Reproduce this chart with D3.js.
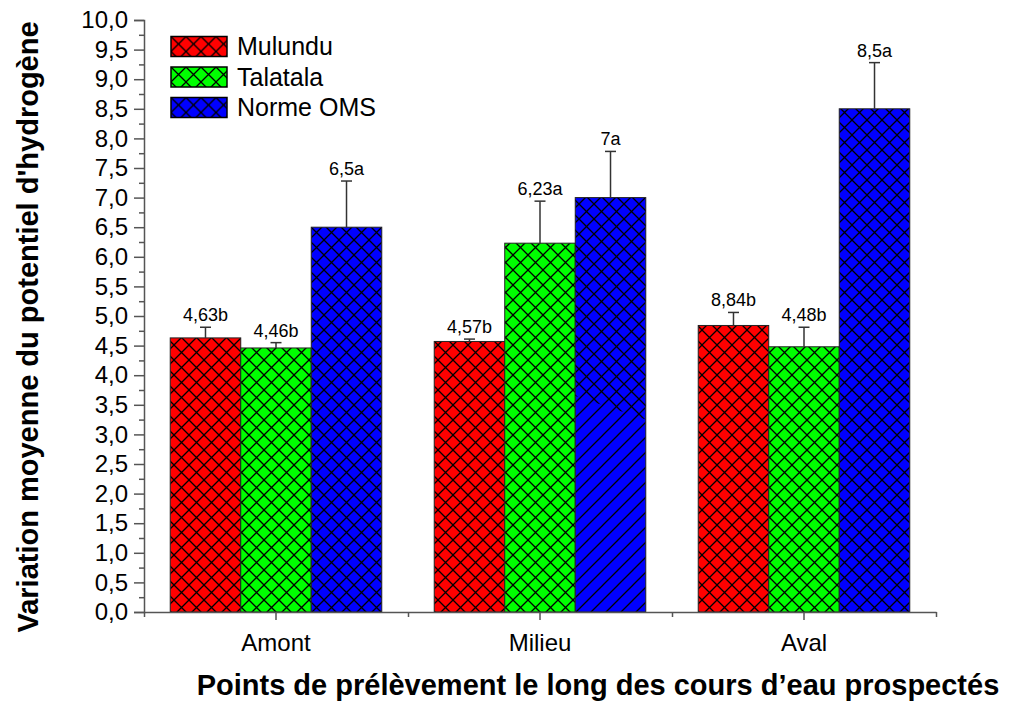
<!DOCTYPE html>
<html lang="fr">
<head>
<meta charset="utf-8">
<title>pH moyen</title>
<script src="https://cdn.jsdelivr.net/npm/d3@7"></script>
<style>
body { margin: 0; background: #fff; }
text { font-family: "Liberation Sans", Arial, sans-serif; fill: #000; }
.axis path, .axis line { stroke: #555; stroke-width: 1.5px; }
.axis text { font-size: 24px; fill: #000; }
.err { stroke: #333; stroke-width: 1.5px; }
</style>
</head>
<body>
<svg width="1011" height="702"></svg>
<script>
var categories = ["Amont", "Milieu", "Aval"];
var seriesNames = ["Mulundu", "Talatala", "Norme OMS"];
var colors = ["#ff0000", "#00ff00", "#0000ff"];

var mulundu = [4.63, 4.57, 4.84];
var talatala = [4.46, 6.23, 4.48];
var normeOMS = [6.5, 7.0, 8.5];

var mulunduErr = [0.18, 0.04, 0.22];
var talatalaErr = [0.09, 0.71, 0.33];
var normeOMSErr = [0.78, 0.78, 0.78];

var mulunduLbl = ["4,63b", "4,57b", "8,84b"];
var talatalaLbl = ["4,46b", "6,23a", "4,48b"];
var normeOMSLbl = ["6,5a", "7a", "8,5a"];

var yTicks = d3.range(0, 10.01, 0.5);
var yMinor = d3.range(0.25, 10, 0.5);

var values = [mulundu, talatala, normeOMS];
var errs = [mulunduErr, talatalaErr, normeOMSErr];
var lbls = [mulunduLbl, talatalaLbl, normeOMSLbl];

var svg = d3.select("svg");

var defs = svg.append("defs");
// cross hatch + single hatch
colors.forEach(function(c, i) {
  var p = defs.append("pattern").attr("id", "cross" + i)
      .attr("patternUnits", "userSpaceOnUse").attr("width", 15).attr("height", 15);
  p.append("rect").attr("width", 15).attr("height", 15).attr("fill", c);
  p.append("path").attr("d", "M-1,1 l2,-2 M0,15 l15,-15 M14,16 l2,-2 M-1,14 l2,2 M0,0 l15,15 M14,-1 l2,2")
      .attr("stroke", "#000").attr("stroke-width", 1.3);
  var s = defs.append("pattern").attr("id", "single" + i)
      .attr("patternUnits", "userSpaceOnUse").attr("width", 15).attr("height", 15);
  s.append("rect").attr("width", 15).attr("height", 15).attr("fill", c);
  s.append("path").attr("d", "M-1,1 l2,-2 M0,15 l15,-15 M14,16 l2,-2")
      .attr("stroke", "#000").attr("stroke-width", 1.3);
});
var back = defs.append("pattern").attr("id", "back")
    .attr("patternUnits", "userSpaceOnUse").attr("width", 15).attr("height", 15);
back.append("path").attr("d", "M-1,14 l2,2 M0,0 l15,15 M14,-1 l2,2")
    .attr("stroke", "#000").attr("stroke-width", 1.3);

var y = d3.scaleLinear().domain([0, 10]).range([612, 20]);
var x0 = d3.scaleBand().domain(categories).range([144, 936]).padding(0);
var x1 = d3.scaleBand().domain(d3.range(3)).range([0, x0.bandwidth()]).paddingInner(0).paddingOuter(0.372);
var xEdge = d3.scaleLinear().domain([0, 3]).range([144, 936]);

var fmt = function(d) { return d3.format(".1f")(d).replace(".", ","); };

// bars
var rows = [];
categories.forEach(function(c, ci) {
  values.forEach(function(v, si) {
    rows.push({cat: c, ci: ci, si: si, v: v[ci], e: errs[si][ci], l: lbls[si][ci]});
  });
});

var bar = svg.append("g").selectAll("g").data(rows).enter().append("g")
    .attr("transform", function(d) { return "translate(" + x0(d.cat) + ",0)"; });

bar.append("rect")
    .attr("x", function(d) { return x1(d.si); })
    .attr("y", function(d) { return y(d.v); })
    .attr("width", x1.bandwidth())
    .attr("height", function(d) { return y(0) - y(d.v); })
    .attr("fill", function(d) {
      return (d.ci === 1 && d.si === 2) ? "url(#single2)" : "url(#cross" + d.si + ")";
    })
    .attr("stroke", "#222").attr("stroke-width", 1);

// Milieu / Norme OMS: back hatch only on upper part
var mb = rows.filter(function(d) { return d.ci === 1 && d.si === 2; })[0];
var mx = x0(mb.cat) + x1(mb.si), mw = x1.bandwidth();
defs.append("clipPath").attr("id", "mbclip").append("path")
    .attr("d", "M" + mx + "," + y(mb.v) + "H" + (mx + mw) + "V" + y(3.25) + "L" + mx + "," + y(3.65) + "Z");
svg.append("rect").attr("clip-path", "url(#mbclip)")
    .attr("x", mx).attr("y", y(mb.v)).attr("width", mw).attr("height", y(0) - y(mb.v))
    .attr("fill", "url(#back)");

// error bars
bar.append("line").attr("class", "err")
    .attr("x1", function(d) { return x1(d.si) + x1.bandwidth() / 2; })
    .attr("x2", function(d) { return x1(d.si) + x1.bandwidth() / 2; })
    .attr("y1", function(d) { return y(d.v); })
    .attr("y2", function(d) { return y(d.v + d.e); });
bar.append("line").attr("class", "err")
    .attr("x1", function(d) { return x1(d.si) + x1.bandwidth() / 2 - 5.5; })
    .attr("x2", function(d) { return x1(d.si) + x1.bandwidth() / 2 + 5.5; })
    .attr("y1", function(d) { return y(d.v + d.e); })
    .attr("y2", function(d) { return y(d.v + d.e); });
bar.append("text")
    .attr("x", function(d) { return x1(d.si) + x1.bandwidth() / 2; })
    .attr("y", function(d) { return y(d.v + d.e) - 6; })
    .attr("text-anchor", "middle")
    .style("font-size", "18px")
    .text(function(d) { return d.l; });

// axes
svg.append("g").attr("class", "axis")
    .attr("transform", "translate(144,0)")
    .call(d3.axisLeft(y).tickValues(yTicks).tickSize(10).tickPadding(6).tickFormat(fmt));
svg.append("g").attr("class", "axis")
    .attr("transform", "translate(144,0)")
    .call(d3.axisLeft(y).tickValues(yMinor).tickSize(5).tickFormat(""))
    .select(".domain").remove();

svg.append("g").attr("class", "axis")
    .attr("transform", "translate(0,612)")
    .call(d3.axisBottom(x0).tickSize(8).tickSizeOuter(0).tickPadding(14));
svg.append("g").attr("class", "axis")
    .attr("transform", "translate(0,612)")
    .call(d3.axisBottom(xEdge).tickValues([0, 1, 2, 3]).tickSize(5).tickFormat(""))
    .select(".domain").remove();

// axis titles
svg.append("text")
    .attr("transform", "translate(38,327) rotate(-90)")
    .attr("text-anchor", "middle")
    .style("font-size", "29px").style("font-weight", "bold")
    .text("Variation moyenne du potentiel d'hydrogène");
svg.append("text")
    .attr("x", 598).attr("y", 695)
    .attr("text-anchor", "middle")
    .style("font-size", "29px").style("font-weight", "bold")
    .text("Points de prélèvement le long des cours d’eau prospectés");

// legend
var leg = svg.append("g").selectAll("g").data(seriesNames).enter().append("g")
    .attr("transform", function(d, i) { return "translate(171," + (36.5 + i * 30.5) + ")"; });
leg.append("rect").attr("width", 56).attr("height", 20)
    .attr("fill", function(d, i) { return "url(#cross" + i + ")"; })
    .attr("stroke", "#000").attr("stroke-width", 1.5);
leg.append("text").attr("x", 66).attr("y", 10).attr("dy", "0.35em")
    .style("font-size", "25px")
    .text(function(d) { return d; });
</script>
</body>
</html>
